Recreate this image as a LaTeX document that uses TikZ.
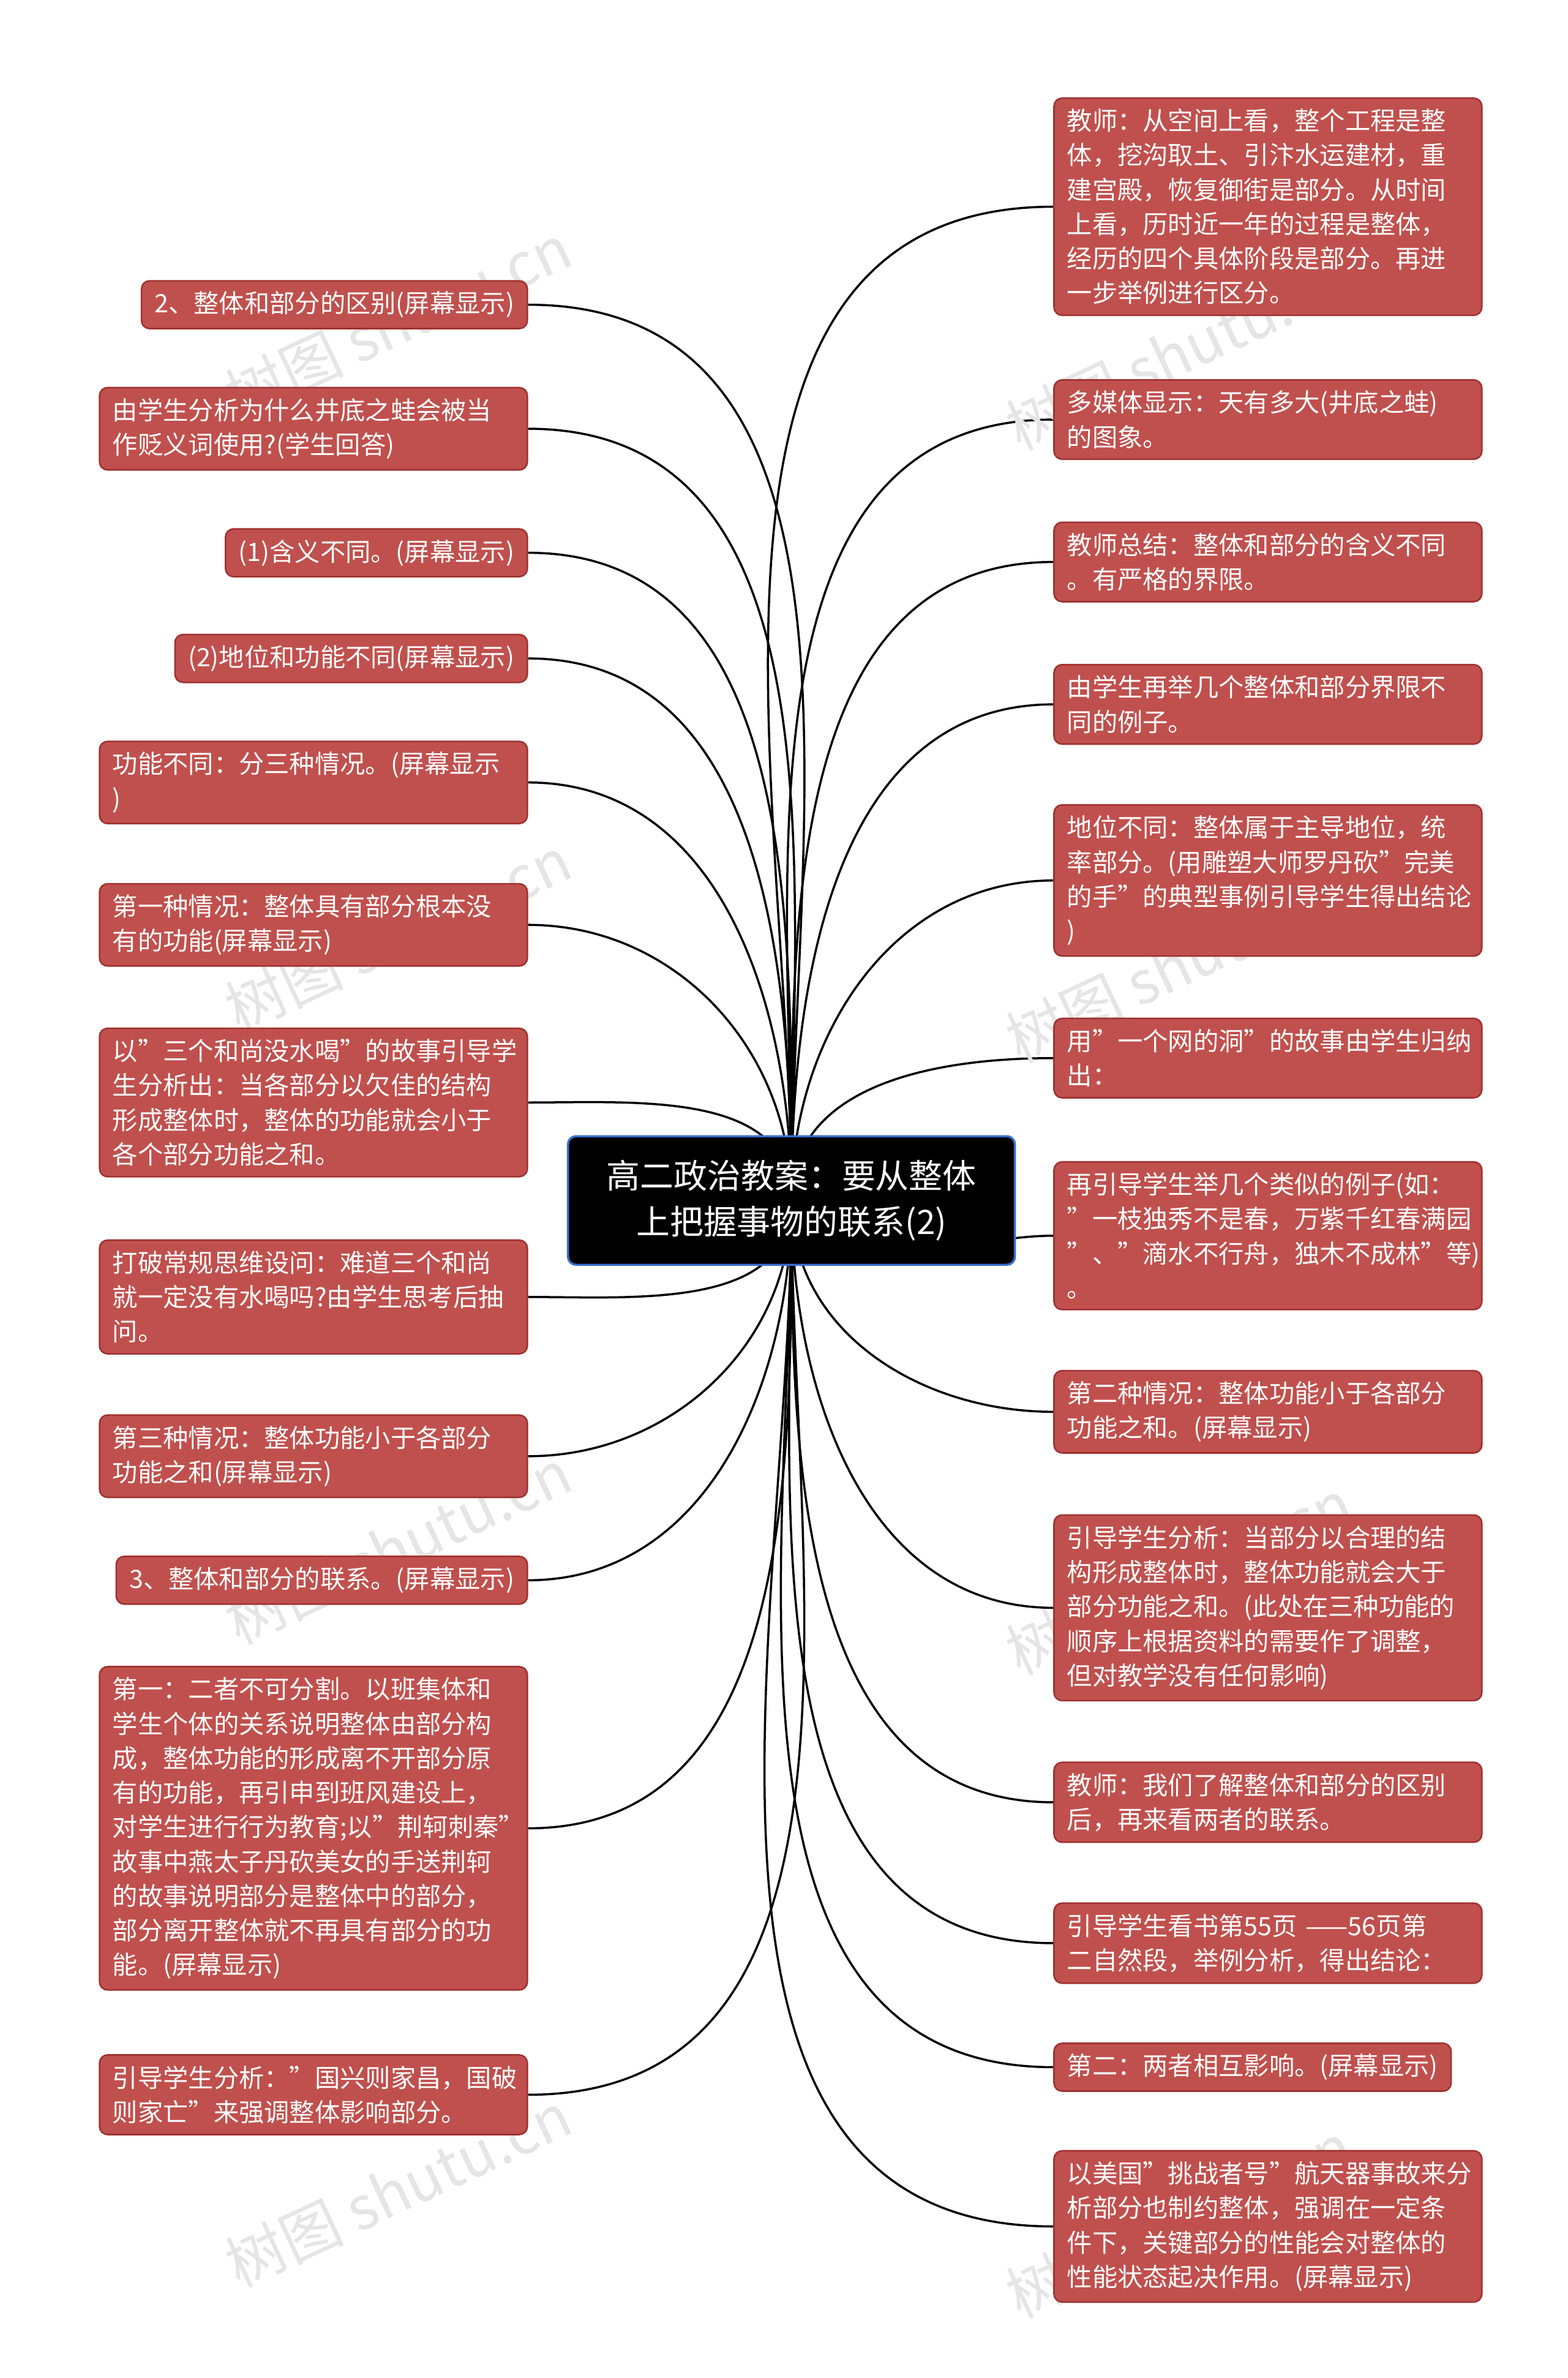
\documentclass[tikz,border=0pt]{standalone}
\usepackage{fontspec}
\setmainfont{Noto Sans CJK SC}
\usetikzlibrary{positioning}
\pgfdeclarelayer{background}
\pgfsetlayers{background,main}
\definecolor{leafred}{RGB}{192,80,77}
\definecolor{leafborder}{RGB}{160,50,48}
\definecolor{hubblue}{RGB}{60,110,210}
\newcommand\dq{\char"22\relax}
\tikzset{
  leaf/.style={draw=leafborder,fill=leafred,text=white,rounded corners=3pt,
    line width=0.6pt,align=left,inner xsep=0.17cm,inner ysep=0.14cm,
    font=\fontsize{9.4}{12.8}\selectfont},
  wide/.style={leaf,text width=5.25cm},
  link/.style={line width=0.8pt,draw=black},
  watermark/.style={text=black!10,rotate=25,font=\fontsize{22}{22}\selectfont}
}
\begin{document}
\begin{tikzpicture}[x=0.02cm,y=-0.02cm]
  \useasboundingbox (0,0) rectangle (1024,1553);
  % watermarks
  \foreach \wy in {210,610,1010,1430} {
    \node [watermark] at (260,\wy) {树图 shutu.cn};
    \node [watermark] at (770,\wy+20) {树图 shutu.cn};
  }
  % hub
  \coordinate (hub) at (517,784);
  % left leaves
  \node [leaf,anchor=east] at (345,199) (l1) {2、整体和部分的区别(屏幕显示)};
  \node [wide,anchor=east] at (345,280) (l2) {由学生分析为什么井底之蛙会被当\\作贬义词使用?(学生回答)};
  \node [leaf,anchor=east] at (345,361) (l3) {(1)含义不同。(屏幕显示)};
  \node [leaf,anchor=east] at (345,430) (l4) {(2)地位和功能不同(屏幕显示)};
  \node [wide,anchor=east] at (345,511) (l5) {功能不同：分三种情况。(屏幕显示\\)};
  \node [wide,anchor=east] at (345,604) (l6) {第一种情况：整体具有部分根本没\\有的功能(屏幕显示)};
  \node [wide,anchor=east] at (345,720) (l7) {以\dq 三个和尚没水喝\dq 的故事引导学\\生分析出：当各部分以欠佳的结构\\形成整体时，整体的功能就会小于\\各个部分功能之和。};
  \node [wide,anchor=east] at (345,847) (l8) {打破常规思维设问：难道三个和尚\\就一定没有水喝吗?由学生思考后抽\\问。};
  \node [wide,anchor=east] at (345,951) (l9) {第三种情况：整体功能小于各部分\\功能之和(屏幕显示)};
  \node [leaf,anchor=east] at (345,1032) (l10) {3、整体和部分的联系。(屏幕显示)};
  \node [wide,anchor=east] at (345,1194) (l11) {第一：二者不可分割。以班集体和\\学生个体的关系说明整体由部分构\\成，整体功能的形成离不开部分原\\有的功能，再引申到班风建设上，\\对学生进行行为教育;以\dq 荆轲刺秦\dq\\故事中燕太子丹砍美女的手送荆轲\\的故事说明部分是整体中的部分，\\部分离开整体就不再具有部分的功\\能。(屏幕显示)};
  \node [wide,anchor=east] at (345,1368) (l12) {引导学生分析：\dq 国兴则家昌，国破\\则家亡\dq 来强调整体影响部分。};
  % right leaves
  \node [wide,anchor=west] at (688,135) (r1) {教师：从空间上看，整个工程是整\\体，挖沟取土、引汴水运建材，重\\建宫殿，恢复御街是部分。从时间\\上看，历时近一年的过程是整体，\\经历的四个具体阶段是部分。再进\\一步举例进行区分。};
  \node [wide,anchor=west] at (688,274) (r2) {多媒体显示：天有多大(井底之蛙)\\的图象。};
  \node [wide,anchor=west] at (688,367) (r3) {教师总结：整体和部分的含义不同\\。有严格的界限。};
  \node [wide,anchor=west] at (688,460) (r4) {由学生再举几个整体和部分界限不\\同的例子。};
  \node [wide,anchor=west] at (688,575) (r5) {地位不同：整体属于主导地位，统\\率部分。(用雕塑大师罗丹砍\dq 完美\\的手\dq 的典型事例引导学生得出结论\\)};
  \node [wide,anchor=west] at (688,691) (r6) {用\dq 一个网的洞\dq 的故事由学生归纳\\出：};
  \node [wide,anchor=west] at (688,807) (r7) {再引导学生举几个类似的例子(如：\\\dq 一枝独秀不是春，万紫千红春满园\\\dq 、\dq 滴水不行舟，独木不成林\dq 等)\\。};
  \node [wide,anchor=west] at (688,922) (r8) {第二种情况：整体功能小于各部分\\功能之和。(屏幕显示)};
  \node [wide,anchor=west] at (688,1050) (r9) {引导学生分析：当部分以合理的结\\构形成整体时，整体功能就会大于\\部分功能之和。(此处在三种功能的\\顺序上根据资料的需要作了调整，\\但对教学没有任何影响)};
  \node [wide,anchor=west] at (688,1177) (r10) {教师：我们了解整体和部分的区别\\后，再来看两者的联系。};
  \node [wide,anchor=west] at (688,1269) (r11) {引导学生看书第55页 ——56页第\\二自然段，举例分析，得出结论：};
  \node [leaf,anchor=west] at (688,1350) (r12) {第二：两者相互影响。(屏幕显示)};
  \node [wide,anchor=west] at (688,1454) (r13) {以美国\dq 挑战者号\dq 航天器事故来分\\析部分也制约整体，强调在一定条\\件下，关键部分的性能会对整体的\\性能状态起决作用。(屏幕显示)};
  % links
  \begin{pgfonlayer}{background}
    \foreach \n in {l1,l2,l3,l4,l5,l6,l7}
      \draw [link] (hub) to [out=90,in=0] (\n.east);
    \foreach \n in {l8,l9,l10,l11,l12}
      \draw [link] (hub) to [out=270,in=0] (\n.east);
    \foreach \n in {r1,r2,r3,r4,r5,r6}
      \draw [link] (hub) to [out=90,in=180] (\n.west);
    \foreach \n in {r7,r8,r9,r10,r11,r12,r13}
      \draw [link] (hub) to [out=270,in=180] (\n.west);
  \end{pgfonlayer}
  % centre
  \node [draw=hubblue,fill=black,text=white,rounded corners=3pt,line width=0.8pt,
    minimum width=5.84cm,minimum height=1.68cm,align=center,
    font=\fontsize{12.5}{17}\selectfont] at (hub) (root)
    {高二政治教案：要从整体\\上把握事物的联系(2)};
\end{tikzpicture}
\end{document}
